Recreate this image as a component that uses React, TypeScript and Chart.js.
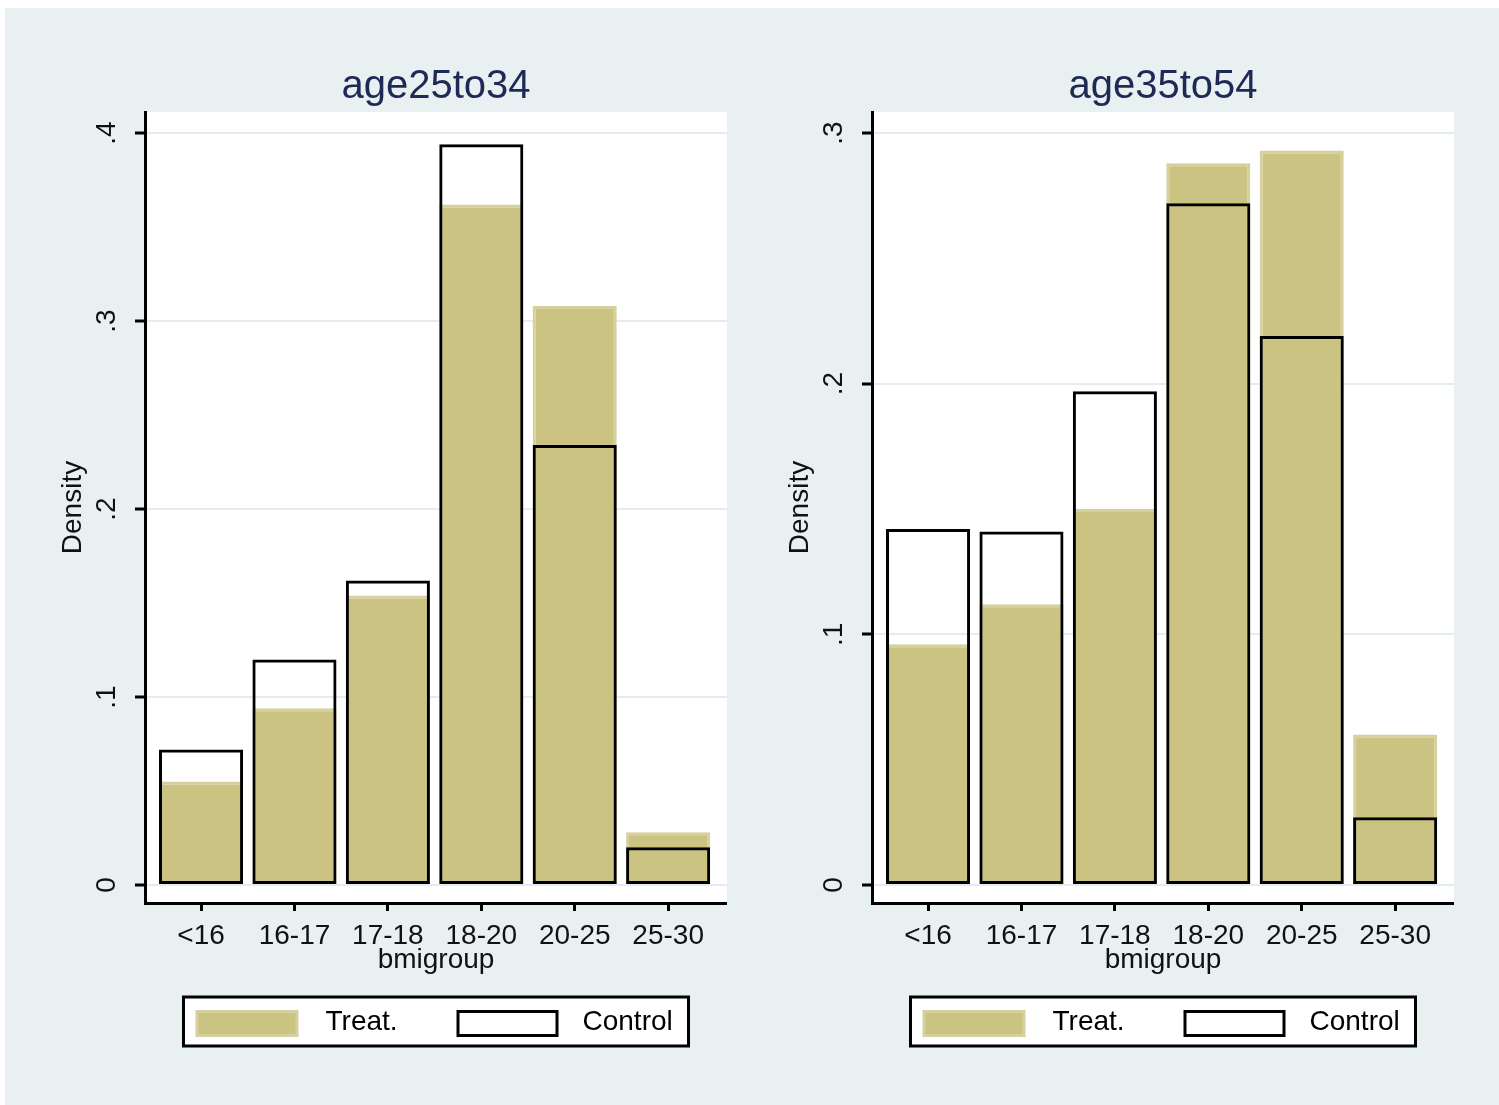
import React, { useEffect, useRef } from "react";
import { Chart, registerables } from "chart.js";

Chart.register(...registerables);

// ---------- data ----------
const categories = ["<16", "16-17", "17-18", "18-20", "20-25", "25-30"];
const seriesNames = ["Treat.", "Control"];
const panelTitles = ["age25to34", "age35to54"];
const xAxisTitle = "bmigroup";
const yAxisTitle = "Density";

const treat25to34 = [0.055, 0.094, 0.154, 0.362, 0.308, 0.028];
const control25to34 = [0.072, 0.12, 0.162, 0.394, 0.234, 0.02];
const treat35to54 = [0.096, 0.112, 0.15, 0.288, 0.293, 0.06];
const control35to54 = [0.142, 0.141, 0.197, 0.272, 0.219, 0.027];

const yTicks25to34 = [0, 0.1, 0.2, 0.3, 0.4];
const yTickLabels25to34 = ["0", ".1", ".2", ".3", ".4"];
const yTicks35to54 = [0, 0.1, 0.2, 0.3];
const yTickLabels35to54 = ["0", ".1", ".2", ".3"];

// ---------- styles ----------
const FONT = '"Liberation Sans", Arial, sans-serif';
const TREAT_FILL = "#cbc381";
const TREAT_EDGE = "#d6d09e";
const PANEL_BG = "#e8f0f2";
const GRID = "#e3ecef";

const plotBg = {
  id: "plotBg",
  beforeDraw(chart: any) {
    const { ctx, chartArea: a } = chart;
    ctx.save();
    ctx.fillStyle = "#ffffff";
    ctx.fillRect(a.left, a.top, a.right - a.left, a.bottom - a.top);
    ctx.restore();
  },
};

const boxLegend = {
  id: "boxLegend",
  afterDraw(chart: any) {
    const { ctx, chartArea: a } = chart;
    const names = chart.data.datasets.map((d: any) => d.label);
    const cx = (a.left + a.right) / 2;
    const w = 505;
    const h = 49;
    const left = cx - w / 2;
    const top = a.bottom + 94;
    ctx.save();
    ctx.fillStyle = "#ffffff";
    ctx.fillRect(left, top, w, h);
    ctx.lineWidth = 3;
    ctx.strokeStyle = "#000";
    ctx.strokeRect(left, top, w, h);
    // treat swatch
    ctx.fillStyle = TREAT_EDGE;
    ctx.fillRect(left + 12, top + 13, 103, 27);
    ctx.fillStyle = TREAT_FILL;
    ctx.fillRect(left + 15, top + 16, 97, 21);
    // control swatch
    ctx.fillStyle = "#ffffff";
    ctx.fillRect(left + 273, top + 13, 102, 27);
    ctx.strokeStyle = "#000";
    ctx.lineWidth = 3;
    ctx.strokeRect(left + 274.5, top + 14.5, 99, 24);
    // labels
    ctx.fillStyle = "#000";
    ctx.font = `28px ${FONT}`;
    ctx.textBaseline = "middle";
    ctx.textAlign = "left";
    ctx.fillText(names[0], left + 142, top + 25);
    ctx.fillText(names[1], left + 399, top + 25);
    ctx.restore();
  },
};

type PanelProps = {
  title: string;
  treat: number[];
  control: number[];
  yTicks: number[];
  yLabels: string[];
  yMin: number;
  yMax: number;
  left: number;
};

function Panel({ title, treat, control, yTicks, yLabels, yMin, yMax, left }: PanelProps) {
  const ref = useRef<HTMLCanvasElement | null>(null);
  useEffect(() => {
    if (!ref.current) return;
    const chart = new Chart(ref.current, {
      type: "bar",
      data: {
        datasets: [
          {
            label: seriesNames[0],
            data: treat.map((v, i) => ({ x: i, y: v })),
            backgroundColor: TREAT_FILL,
            borderColor: TREAT_EDGE,
            borderWidth: 3,
            borderSkipped: false,
            grouped: false,
            order: 2,
            barPercentage: 0.9,
            categoryPercentage: 1,
          },
          {
            label: seriesNames[1],
            data: control.map((v, i) => ({ x: i, y: v })),
            backgroundColor: "rgba(0,0,0,0)",
            borderColor: "#000",
            borderWidth: 3,
            borderSkipped: false,
            grouped: false,
            order: 1,
            barPercentage: 0.9,
            categoryPercentage: 1,
          },
        ] as any,
      },
      options: {
        animation: false,
        responsive: false,
        events: [],
        layout: { padding: { top: 63, bottom: 122, left: 0, right: 0 } },
        plugins: {
          legend: { display: false },
          tooltip: { enabled: false },
          title: {
            display: true,
            text: title,
            fullSize: false,
            color: "#1e2a55",
            font: { family: FONT, size: 40, weight: "normal" },
            padding: { top: 0, bottom: 1 },
          },
        },
        scales: {
          x: {
            type: "linear",
            min: -0.6,
            max: 5.63,
            offset: false,
            afterBuildTicks: (scale: any) => {
              scale.ticks = categories.map((_, i) => ({ value: i }));
            },
            afterFit: (scale: any) => {
              scale.height = 80;
            },
            ticks: {
              autoSkip: false,
              maxRotation: 0,
              minRotation: 0,
              padding: 8,
              color: "#111",
              font: { family: FONT, size: 28 },
              callback: (v: any) => categories[Math.round(Number(v))] ?? "",
            },
            grid: {
              offset: false,
              drawOnChartArea: false,
              drawTicks: true,
              tickLength: 8,
              tickColor: "#000",
              tickWidth: 3,
            },
            border: { display: true, color: "#000", width: 3 },
            title: {
              display: true,
              text: xAxisTitle,
              color: "#111",
              font: { family: FONT, size: 28 },
              padding: { top: 0, bottom: 6 },
            },
          },
          y: {
            type: "linear",
            min: yMin,
            max: yMax,
            afterBuildTicks: (scale: any) => {
              scale.ticks = yTicks.map((v) => ({ value: v }));
            },
            afterFit: (scale: any) => {
              scale.width = 145;
            },
            ticks: {
              minRotation: 90,
              maxRotation: 90,
              crossAlign: "center",
              padding: 16,
              color: "#111",
              font: { family: FONT, size: 28 },
              callback: (v: any) => {
                const idx = yTicks.findIndex((t) => Math.abs(t - Number(v)) < 1e-9);
                return idx >= 0 ? yLabels[idx] : "";
              },
            },
            grid: {
              color: GRID,
              lineWidth: 2,
              drawTicks: true,
              tickLength: 10,
              tickColor: "#000",
              tickWidth: 3,
            },
            border: { display: true, color: "#000", width: 3 },
            title: {
              display: true,
              text: yAxisTitle,
              color: "#111",
              font: { family: FONT, size: 28 },
              padding: { top: 56, bottom: 0 },
            },
          },
        },
      } as any,
      plugins: [plotBg, boxLegend],
    });
    return () => chart.destroy();
  }, []);
  return (
    <canvas
      ref={ref}
      width={727}
      height={1105}
      style={{ position: "absolute", left, top: 0, width: 727, height: 1105 }}
    />
  );
}

export default function App() {
  return (
    <div
      style={{
        position: "absolute",
        left: 0,
        top: 0,
        width: 1499,
        height: 1105,
        background: "#ffffff",
        overflow: "hidden",
      }}
    >
      <div
        style={{
          position: "absolute",
          left: 5,
          top: 8,
          width: 1494,
          height: 1097,
          background: PANEL_BG,
        }}
      />
      <Panel
        title={panelTitles[0]}
        treat={treat25to34}
        control={control25to34}
        yTicks={yTicks25to34}
        yLabels={yTickLabels25to34}
        yMin={-0.0096}
        yMax={0.4112}
        left={0}
      />
      <Panel
        title={panelTitles[1]}
        treat={treat35to54}
        control={control35to54}
        yTicks={yTicks35to54}
        yLabels={yTickLabels35to54}
        yMin={-0.0072}
        yMax={0.3084}
        left={727}
      />
    </div>
  );
}
